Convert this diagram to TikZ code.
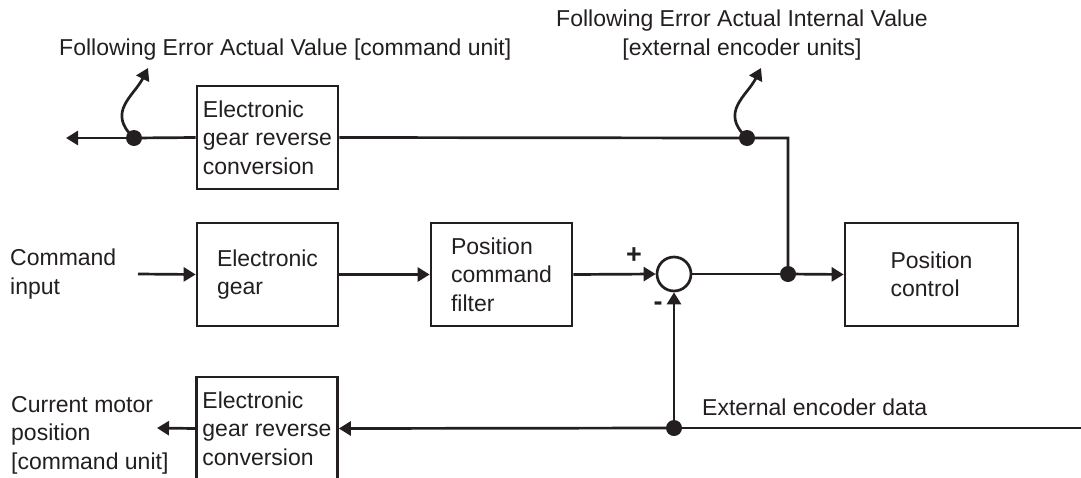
\documentclass[tikz,border=0pt]{standalone}
\usepackage{fontspec}
\setmainfont{Liberation Sans}
\usetikzlibrary{arrows.meta}
\definecolor{ink}{RGB}{35,31,32}
\begin{document}
\begin{tikzpicture}[x=1pt,y=-1pt,
  every node/.style={text=ink},
  line/.style={draw=ink,line width=2.7pt},
  arr/.style={line,-{Triangle[length=12pt,width=14pt]}},
  block/.style={draw=ink,line width=2.7pt,rectangle,minimum width=141pt,minimum height=103pt,
     align=left,font=\fontsize{23}{28.5}\selectfont,inner sep=0pt},
  dot/.style={circle,fill=ink,inner sep=0pt,minimum size=16pt},
  lbl/.style={font=\fontsize{23}{28.5}\selectfont,inner sep=0pt},
  sign/.style={font=\fontsize{27}{28}\selectfont\bfseries,inner sep=0pt}]
\useasboundingbox (0,0) rectangle (1081,477);
\clip (0,0) rectangle (1081,477);
% blocks
\node[block] (rev1) at (267.5,137.5) {Electronic\\gear reverse\\conversion};
\node[block] (eg) at (267.5,274.5) {Electronic\\gear};
\node[block] (pcf) at (501.5,274.5) {Position\\command\\filter};
\node[block,minimum width=173pt] (pc) at (931.5,274.5) {Position\\control};
\node[block] (rev2) at (267,428.5) {Electronic\\gear reverse\\conversion};
\node[draw=ink,line width=2.7pt,circle,minimum size=34pt,inner sep=0pt] (sum) at (674,274) {};
% junction dots
\node[dot] (d1) at (134,138) {};
\node[dot] (d2) at (747,138) {};
\node[dot] (d3) at (788,274) {};
\node[dot] (d4) at (674,428) {};
% free ends
\coordinate (outT) at (66,138);
\coordinate (corner) at (788,138);
\coordinate (cmdin) at (138,274);
\coordinate (rightend) at (1081,428);
\coordinate (outB) at (157,428);
\coordinate (w1) at (148,68);
\coordinate (w2) at (761,68);
% labels (base = baseline of last line)
\node[lbl,anchor=base west] (t1) at (59,55) {Following Error Actual Value [command unit]};
\node[lbl,anchor=base,align=center] (t2) at (742,55) {Following Error Actual Internal Value\\{}[external encoder units]};
\node[lbl,anchor=base west,align=left] (t3) at (10,294) {Command\\input};
\node[lbl,anchor=base west,align=left] (t4) at (11,469) {Current motor\\position\\{}[command unit]};
\node[lbl,anchor=base west] (t5) at (702,415) {External encoder data};
\node[sign] (plus) at (634,256) {+};
\node[sign] (minus) at (658,306) {-};
% connectors
\draw[arr] (cmdin) -- (eg.west);
\draw[arr] (eg.east) -- (pcf.west);
\draw[arr] (pcf.east) -- (sum.west);
\draw[line] (sum.east) -- (d3.center);
\draw[arr] (d3.center) -- (pc.west);
\draw[line] (d3.center) -- (corner) -- (d2.center) -- (rev1.east);
\draw[line] (rev1.west) -- (d1.center);
\draw[arr] (d1.center) -- (outT);
\draw[line] (rightend) -- (d4.center);
\draw[arr] (d4.center) -- (sum.south);
\draw[arr] (d4.center) -- (rev2.east);
\draw[arr] (rev2.west) -- (outB);
\draw[arr] (d1.center) .. controls +(-28,-26) and +(-14,28) .. (w1);
\draw[arr] (d2.center) .. controls +(-28,-26) and +(-14,28) .. (w2);
\end{tikzpicture}
\end{document}
